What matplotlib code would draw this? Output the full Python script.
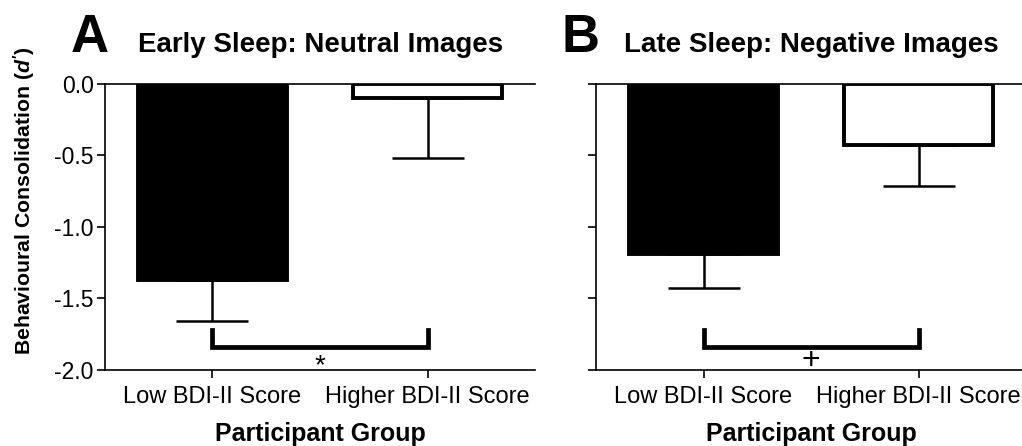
import numpy as np
import matplotlib.pyplot as plt

plt.rcParams['font.family'] = ['Liberation Sans', 'DejaVu Sans']
plt.rcParams['mathtext.fontset'] = 'custom'
plt.rcParams['mathtext.it'] = 'Liberation Sans:italic:bold'
plt.rcParams['mathtext.rm'] = 'Liberation Sans:bold'

groups = ['Low BDI-II Score', 'Higher BDI-II Score']
panel_letters = ['A', 'B']
panel_titles = ['Early Sleep: Neutral Images', 'Late Sleep: Negative Images']
means = [[-1.37, -0.10], [-1.19, -0.43]]
sems = [[0.29, 0.42], [0.24, 0.28]]
sig_marks = ['*', '+']
sig_sizes = [20, 23]
bracket_top = -1.72
bracket_low = -1.84
mark_y = [-1.97, -1.935]


def main():
    fig = plt.figure(figsize=(10.22, 4.46), dpi=100)
    lefts = [0.1027, 0.5832]
    letter_x = [-0.035, -0.037]
    title_x = [0.077, 0.065]
    idx = np.arange(len(groups))
    for p in range(2):
        ax = fig.add_axes([lefts[p], 0.1704, 0.4208, 0.6413])
        ax.bar(idx, means[p], 0.69, color=['black', 'white'],
               edgecolor='black', linewidth=2.8, zorder=2)
        ax.errorbar(idx, means[p], yerr=[sems[p], [0, 0]], fmt='none',
                    ecolor='black', elinewidth=1.8, capsize=26,
                    capthick=1.8, zorder=1)
        ax.plot([0, 0, 1, 1], [bracket_top, bracket_low, bracket_low, bracket_top],
                color='black', lw=3.4, solid_joinstyle='miter', clip_on=False)
        ax.text(0.5, mark_y[p], sig_marks[p], ha='center', va='center',
                fontsize=sig_sizes[p])
        ax.set_xlim(-0.5, 1.5)
        ax.set_ylim(-2.0, 0.0)
        ax.set_yticks([0.0, -0.5, -1.0, -1.5, -2.0])
        ax.set_xticks(idx)
        ax.set_xticklabels(groups, fontsize=17)
        ax.spines['right'].set_visible(False)
        for s in ['left', 'top', 'bottom']:
            ax.spines[s].set_linewidth(1.2)
        ax.tick_params(axis='both', width=1.2, length=6, pad=2)
        ax.tick_params(axis='x', pad=5.5)
        if p == 0:
            ax.set_yticklabels(['0.0', '-0.5', '-1.0', '-1.5', '-2.0'],
                               fontsize=16.5)
            ax.set_ylabel("Behavioural Consolidation ($\\mathit{d'}$)",
                          fontsize=15.3, fontweight='bold')
            ax.yaxis.set_label_coords(-0.158, 0.591)
        else:
            ax.set_yticklabels([])
        ax.set_xlabel('Participant Group', fontsize=18, fontweight='bold',
                      labelpad=10)
        ax.text(letter_x[p], 1.112, panel_letters[p], transform=ax.transAxes,
                fontsize=38, fontweight='bold', ha='center', va='baseline')
        ax.text(title_x[p], 1.112, panel_titles[p], transform=ax.transAxes,
                fontsize=20, fontweight='bold', ha='left', va='baseline')

    plt.savefig('out.png', dpi=100)


if __name__ == "__main__":
    main()
